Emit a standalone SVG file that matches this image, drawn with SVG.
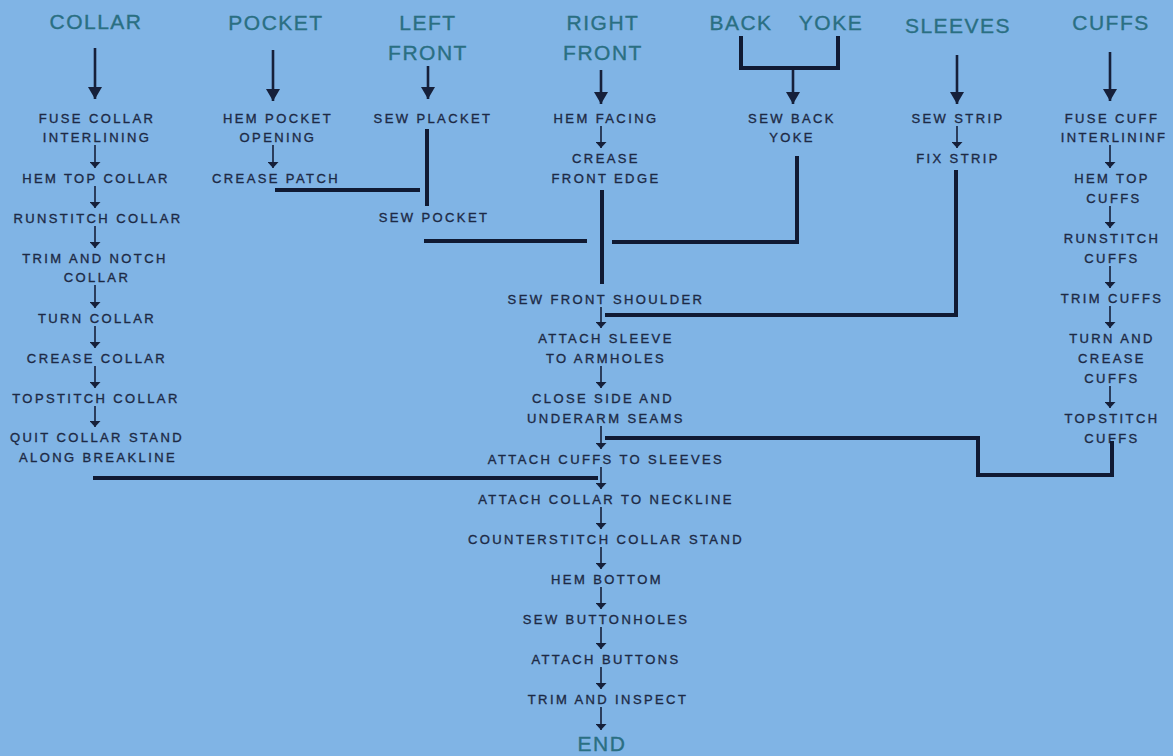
<svg xmlns="http://www.w3.org/2000/svg" width="1173" height="756" viewBox="0 0 1173 756">
  <defs>
    <style>
      .hd { font-family: "Liberation Sans", Arial, sans-serif; font-size: 21px; fill: #2a6f82; stroke: #2a6f82; stroke-width: 0.35; text-anchor: middle; letter-spacing: 1.5px; }
      .st { font-family: "Liberation Sans", Arial, sans-serif; font-size: 13px; fill: #1d2a45; stroke: #1d2a45; stroke-width: 0.35; text-anchor: middle; letter-spacing: 2.4px; }
      .big { stroke: #16203a; stroke-width: 2.6; fill: none; marker-end: url(#bigHead); }
      .sm { stroke: #16203a; stroke-width: 1.6; fill: none; marker-end: url(#smHead); }
      .bar { stroke: #101a33; stroke-width: 4; fill: none; stroke-linecap: square; }
    </style>
    <marker id="bigHead" viewBox="0 0 12 14" refX="12" refY="7" markerWidth="12" markerHeight="14" markerUnits="userSpaceOnUse" orient="auto">
      <path d="M0,0 L12,7 L0,14 z" fill="#16203a"/>
    </marker>
    <marker id="smHead" viewBox="0 0 6 11" refX="6" refY="5.5" markerWidth="6" markerHeight="11" markerUnits="userSpaceOnUse" orient="auto">
      <path d="M0,0 L6,5.5 L0,11 z" fill="#16203a"/>
    </marker>
  </defs>

  <rect width="1173" height="756" fill="#80b4e5"/>

  <!-- column headings -->
  <g id="hd-collar"><text class="hd" x="96" y="29">COLLAR</text></g>
  <g id="hd-pocket"><text class="hd" x="276" y="30">POCKET</text></g>
  <g id="hd-left-front"><text class="hd" x="428" y="30">LEFT</text><text class="hd" x="428" y="60">FRONT</text></g>
  <g id="hd-right-front"><text class="hd" x="603" y="30">RIGHT</text><text class="hd" x="603" y="60">FRONT</text></g>
  <g id="hd-back"><text class="hd" x="741" y="30">BACK</text></g>
  <g id="hd-yoke"><text class="hd" x="831" y="30">YOKE</text></g>
  <g id="hd-sleeves"><text class="hd" x="958" y="33">SLEEVES</text></g>
  <g id="hd-cuffs"><text class="hd" x="1111" y="30">CUFFS</text></g>

  <!-- collar branch -->
  <g id="fuse-collar"><text class="st" x="97" y="123">FUSE COLLAR</text><text class="st" x="97" y="142">INTERLINING</text></g>
  <g id="hem-top-collar"><text class="st" x="96" y="183">HEM TOP COLLAR</text></g>
  <g id="runstitch-collar"><text class="st" x="98" y="223">RUNSTITCH COLLAR</text></g>
  <g id="trim-notch-collar"><text class="st" x="95" y="263">TRIM AND NOTCH</text><text class="st" x="97" y="282">COLLAR</text></g>
  <g id="turn-collar"><text class="st" x="97" y="323">TURN COLLAR</text></g>
  <g id="crease-collar"><text class="st" x="97" y="363">CREASE COLLAR</text></g>
  <g id="topstitch-collar"><text class="st" x="96" y="403">TOPSTITCH COLLAR</text></g>
  <g id="quilt-collar-stand"><text class="st" x="97" y="442">QUIT COLLAR STAND</text><text class="st" x="98" y="462">ALONG BREAKLINE</text></g>

  <!-- pocket branch -->
  <g id="hem-pocket"><text class="st" x="278" y="123">HEM POCKET</text><text class="st" x="278" y="142">OPENING</text></g>
  <g id="crease-patch"><text class="st" x="276" y="183">CREASE PATCH</text></g>

  <!-- left front branch -->
  <g id="sew-placket"><text class="st" x="433" y="123">SEW PLACKET</text></g>
  <g id="sew-pocket"><text class="st" x="434" y="222">SEW POCKET</text></g>

  <!-- right front branch -->
  <g id="hem-facing"><text class="st" x="606" y="123">HEM FACING</text></g>
  <g id="crease-front-edge"><text class="st" x="606" y="163">CREASE</text><text class="st" x="606" y="183">FRONT EDGE</text></g>

  <!-- back and yoke branch -->
  <g id="sew-back-yoke"><text class="st" x="792" y="123">SEW BACK</text><text class="st" x="792" y="142">YOKE</text></g>

  <!-- sleeves branch -->
  <g id="sew-strip"><text class="st" x="958" y="123">SEW STRIP</text></g>
  <g id="fix-strip"><text class="st" x="958" y="163">FIX STRIP</text></g>

  <!-- cuffs branch -->
  <g id="fuse-cuff"><text class="st" x="1112" y="123">FUSE CUFF</text><text class="st" x="1114" y="142">INTERLININF</text></g>
  <g id="hem-top-cuffs"><text class="st" x="1112" y="183">HEM TOP</text><text class="st" x="1114" y="203">CUFFS</text></g>
  <g id="runstitch-cuffs"><text class="st" x="1112" y="243">RUNSTITCH</text><text class="st" x="1112" y="263">CUFFS</text></g>
  <g id="trim-cuffs"><text class="st" x="1112" y="303">TRIM CUFFS</text></g>
  <g id="turn-crease-cuffs"><text class="st" x="1112" y="343">TURN AND</text><text class="st" x="1112" y="363">CREASE</text><text class="st" x="1112" y="383">CUFFS</text></g>
  <g id="topstitch-cuffs"><text class="st" x="1112" y="423">TOPSTITCH</text><text class="st" x="1112" y="443">CUFFS</text></g>

  <!-- assembly line -->
  <g id="sew-front-shoulder"><text class="st" x="606" y="304">SEW FRONT SHOULDER</text></g>
  <g id="attach-sleeve"><text class="st" x="606" y="343">ATTACH SLEEVE</text><text class="st" x="606" y="363">TO ARMHOLES</text></g>
  <g id="close-side-seams"><text class="st" x="603" y="403">CLOSE SIDE AND</text><text class="st" x="606" y="423">UNDERARM SEAMS</text></g>
  <g id="attach-cuffs"><text class="st" x="606" y="464">ATTACH CUFFS TO SLEEVES</text></g>
  <g id="attach-collar"><text class="st" x="606" y="504">ATTACH COLLAR TO NECKLINE</text></g>
  <g id="counterstitch"><text class="st" x="606" y="544">COUNTERSTITCH COLLAR STAND</text></g>
  <g id="hem-bottom"><text class="st" x="607" y="584">HEM BOTTOM</text></g>
  <g id="sew-buttonholes"><text class="st" x="606" y="624">SEW BUTTONHOLES</text></g>
  <g id="attach-buttons"><text class="st" x="606" y="664">ATTACH BUTTONS</text></g>
  <g id="trim-inspect"><text class="st" x="608" y="704">TRIM AND INSPECT</text></g>
  <g id="end"><text class="hd" x="602" y="751">END</text></g>

  <g id="connectors">
    <!-- heading arrows -->
    <line class="big" x1="95" y1="48" x2="95" y2="99"/>
    <line class="big" x1="273" y1="50" x2="273" y2="101"/>
    <line class="big" x1="428" y1="66" x2="428" y2="99"/>
    <line class="big" x1="601" y1="70" x2="601" y2="104"/>
    <line class="big" x1="793" y1="68" x2="793" y2="104"/>
    <line class="big" x1="957" y1="55" x2="957" y2="104"/>
    <line class="big" x1="1110" y1="52" x2="1110" y2="101"/>
    <path class="bar" d="M741,38 V68 H838 V38"/>

    <!-- collar steps -->
    <line class="sm" x1="95" y1="145" x2="95" y2="168"/>
    <line class="sm" x1="95" y1="186" x2="95" y2="208"/>
    <line class="sm" x1="95" y1="226" x2="95" y2="248"/>
    <line class="sm" x1="95" y1="285" x2="95" y2="308"/>
    <line class="sm" x1="95" y1="326" x2="95" y2="348"/>
    <line class="sm" x1="95" y1="366" x2="95" y2="388"/>
    <line class="sm" x1="95" y1="406" x2="95" y2="427"/>

    <!-- pocket, right front, sleeves -->
    <line class="sm" x1="273" y1="145" x2="273" y2="168"/>
    <line class="sm" x1="601" y1="126" x2="601" y2="148"/>
    <line class="sm" x1="957" y1="126" x2="957" y2="148"/>

    <!-- cuff steps -->
    <line class="sm" x1="1110" y1="145" x2="1110" y2="168"/>
    <line class="sm" x1="1110" y1="206" x2="1110" y2="228"/>
    <line class="sm" x1="1110" y1="266" x2="1110" y2="288"/>
    <line class="sm" x1="1110" y1="306" x2="1110" y2="328"/>
    <line class="sm" x1="1110" y1="386" x2="1110" y2="408"/>

    <!-- assembly steps -->
    <line class="sm" x1="601" y1="307" x2="601" y2="328"/>
    <line class="sm" x1="601" y1="366" x2="601" y2="388"/>
    <line class="sm" x1="601" y1="426" x2="601" y2="449"/>
    <line class="sm" x1="601" y1="467" x2="601" y2="489"/>
    <line class="sm" x1="601" y1="507" x2="601" y2="529"/>
    <line class="sm" x1="601" y1="547" x2="601" y2="569"/>
    <line class="sm" x1="601" y1="587" x2="601" y2="609"/>
    <line class="sm" x1="601" y1="627" x2="601" y2="649"/>
    <line class="sm" x1="601" y1="667" x2="601" y2="689"/>
    <line class="sm" x1="601" y1="707" x2="601" y2="730"/>

    <!-- joins into the assembly line -->
    <path class="bar" d="M277,190 H418"/>
    <path class="bar" d="M427,131 V204"/>
    <path class="bar" d="M426,241 H585"/>
    <path class="bar" d="M602,192 V282"/>
    <path class="bar" d="M797,158 V242 H614"/>
    <path class="bar" d="M956,172 V315 H607"/>
    <path class="bar" d="M1112,443 V475 H978 V438 H607"/>
    <path class="bar" d="M95,478 H596"/>
  </g>
</svg>
